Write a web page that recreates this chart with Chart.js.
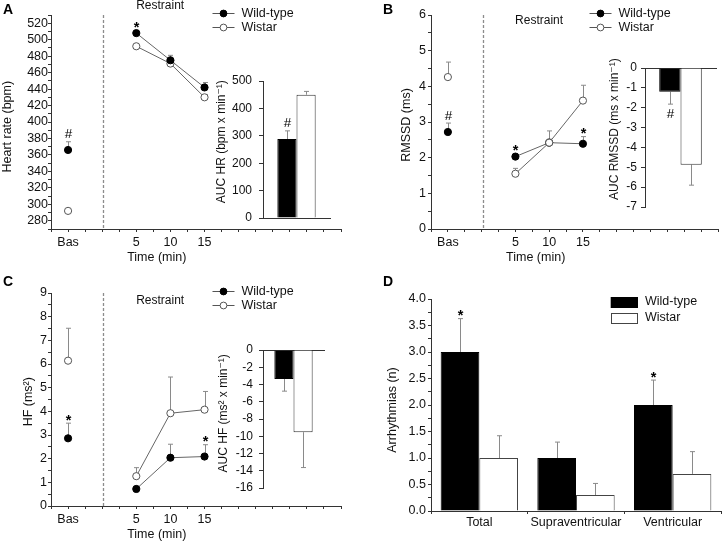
<!DOCTYPE html>
<html>
<head>
<meta charset="utf-8">
<title>Restraint stress: heart rate, RMSSD, HF and arrhythmias</title>
<script src="https://cdn.jsdelivr.net/npm/chart.js@4.4.1/dist/chart.umd.min.js"></script>
<style>
  html, body { margin: 0; padding: 0; background: #fff; }
  #figure { position: relative; width: 723px; height: 547px; overflow: hidden; background: #fff; }
  #figure canvas { position: absolute; }
  .panel-tag { position: absolute; font: bold 14px "Liberation Sans", Arial, sans-serif; line-height: 14px; color: #000; }
</style>
</head>
<body>
<div id="figure">
  <canvas id="hr"></canvas>
  <canvas id="rmssd"></canvas>
  <canvas id="hf"></canvas>
  <canvas id="arrhythmias"></canvas>
  <canvas id="hrAuc"></canvas>
  <canvas id="rmssdAuc"></canvas>
  <canvas id="hfAuc"></canvas>
  <div class="panel-tag" style="left:3px;top:2px">A</div>
  <div class="panel-tag" style="left:383px;top:2px">B</div>
  <div class="panel-tag" style="left:3px;top:274px">C</div>
  <div class="panel-tag" style="left:383px;top:274px">D</div>
</div>
<script>
// time points: baseline, then minutes of restraint
const timeLabels = ['Bas', '5', '10', '15'];
const timeAxis = [-5, 5, 10, 15];
const groups = ['Wild-type', 'Wistar'];

// A - heart rate (bpm)
const hrWildType = [366, 508, 475, 442];
const hrWildTypeSem = [10, 3, 6, 6];
const hrWildTypeSig = ['#', '*', '', ''];
const hrWistar = [292, 492, 471, 430];
const hrWistarSem = [3, 3, 3, 3];
const hrAuc = [288, 450];
const hrAucSem = [30, 12];
const hrAucSig = ['#', ''];

// B - RMSSD (ms)
const rmssdWildType = [2.72, 2.03, 2.42, 2.39];
const rmssdWildTypeSem = [0.25, 0.08, 0.1, 0.2];
const rmssdWildTypeSig = ['#', '*', '', '*'];
const rmssdWistar = [4.26, 1.55, 2.42, 3.6];
const rmssdWistarSem = [0.42, 0.15, 0.33, 0.43];
const rmssdAuc = [-1.2, -4.87];
const rmssdAucSem = [0.62, 1.03];
const rmssdAucSig = ['#', ''];

// C - HF (ms2)
const hfWildType = [2.86, 0.72, 2.04, 2.09];
const hfWildTypeSem = [0.64, 0.1, 0.57, 0.5];
const hfWildTypeSig = ['*', '', '', '*'];
const hfWistar = [6.14, 1.26, 3.92, 4.07];
const hfWistarSem = [1.37, 0.36, 1.53, 0.77];
const hfAuc = [-3.37, -9.53];
const hfAucSem = [1.4, 4.1];
const hfAucSig = ['', ''];

// D - arrhythmias (n)
const arrhythmiaTypes = ['Total', 'Supraventricular', 'Ventricular'];
const arrhWildType = [3.0, 1.0, 2.0];
const arrhWildTypeSem = [0.63, 0.3, 0.47];
const arrhWildTypeSig = ['*', '', '*'];
const arrhWistar = [1.0, 0.3, 0.7];
const arrhWistarSem = [0.42, 0.22, 0.42];

const FONT = '"Liberation Sans", Arial, "DejaVu Sans", sans-serif';
const AXIS = '#333';
const INK = '#111';

Chart.defaults.font.family = FONT;
Chart.defaults.font.size = 12.5;
Chart.defaults.color = INK;
Chart.defaults.animation = false;
Chart.defaults.events = [];
Chart.defaults.plugins.legend.display = false;
Chart.defaults.plugins.tooltip.enabled = false;

function place(id, box) {
  const c = document.getElementById(id);
  c.width = box.w;
  c.height = box.h;
  Object.assign(c.style, {left: box.l + 'px', top: box.t + 'px', width: box.w + 'px', height: box.h + 'px'});
  return c;
}

// layout padding + axis sizes so the plot area lands where it sits in the figure
function fit(box, plot, axisBelow) {
  const below = box.t + box.h - plot.b;
  return {
    padding: {left: 0, top: plot.t - box.t, right: box.l + box.w - plot.r, bottom: axisBelow ? 0 : below},
    yWidth: plot.l - box.l,
    xHeight: axisBelow ? below : 0
  };
}

function eachError(chart, fn) {
  const y = chart.scales.y;
  chart.data.datasets.forEach((ds, di) => {
    if (!ds.errors) {
      return;
    }
    chart.getDatasetMeta(di).data.forEach((el, i) => {
      const raw = ds.data[i];
      const v = typeof raw === 'object' ? raw.y : raw;
      const dir = v < 0 ? -1 : 1;
      const end = v + dir * (ds.errors[i] || 0);
      fn(ds, i, Math.round(el.x) + 0.5, y.getPixelForValue(v), y.getPixelForValue(end), dir);
    });
  });
}

// one-sided SEM whiskers and the * / # significance marks
const errorBars = {
  id: 'errorBars',
  beforeDatasetsDraw(chart) {
    const {ctx} = chart;
    ctx.save();
    ctx.strokeStyle = '#8a8a8a';
    ctx.lineWidth = 1;
    eachError(chart, (ds, i, x, y0, y1) => {
      if (Math.abs(y1 - y0) < 0.5) {
        return;
      }
      ctx.beginPath();
      ctx.moveTo(x, y0);
      ctx.lineTo(x, y1);
      ctx.moveTo(x - 2.5, y1);
      ctx.lineTo(x + 2.5, y1);
      ctx.stroke();
    });
    ctx.restore();
  },
  afterDatasetsDraw(chart) {
    const {ctx} = chart;
    ctx.save();
    ctx.fillStyle = '#000';
    ctx.textAlign = 'center';
    ctx.textBaseline = 'alphabetic';
    eachError(chart, (ds, i, x, y0, y1, dir) => {
      const mark = ds.sig && ds.sig[i];
      if (!mark) {
        return;
      }
      const star = mark === '*';
      ctx.font = (star ? 'bold 14.5px ' : '13.5px ') + FONT;
      if (dir > 0) {
        ctx.fillText(mark, x, star ? y1 + 1.5 : y1 - 3.5);
      } else {
        ctx.fillText(mark, x, y1 + 13.5);
      }
    });
    ctx.restore();
  }
};

// restraint marker, free-standing axis titles and the hand-made legends
const decor = {
  id: 'decor',
  afterDraw(chart, args, o) {
    const {ctx, chartArea: a} = chart;
    const x = chart.scales.x;
    ctx.save();
    ctx.fillStyle = INK;
    if (o.restraintAt !== undefined) {
      const px = Math.round(x.getPixelForValue(o.restraintAt)) + 1.5;
      ctx.strokeStyle = '#8c8c8c';
      ctx.lineWidth = 1.3;
      ctx.setLineDash([3, 2]);
      ctx.beginPath();
      ctx.moveTo(px, a.top);
      ctx.lineTo(px, a.bottom);
      ctx.stroke();
      ctx.setLineDash([]);
      ctx.font = '12px ' + FONT;
      ctx.textAlign = 'center';
      ctx.textBaseline = 'middle';
      ctx.fillText('Restraint', x.getPixelForValue(o.restraintLabelAt), a.top + o.restraintDy);
    }
    if (o.xTitle) {
      ctx.font = '12.5px ' + FONT;
      ctx.textAlign = 'center';
      ctx.textBaseline = 'middle';
      ctx.fillText(o.xTitle, x.getPixelForValue(o.xTitleAt), a.bottom + 28.5);
    }
    if (o.legend === 'markers') {
      const lx = a.right - 128.5;
      const ly = a.top - 2.5;
      chart.data.datasets.forEach((ds, i) => {
        const yy = Math.round(ly + i * 14) + 0.5;
        ctx.strokeStyle = '#555';
        ctx.lineWidth = 1;
        ctx.beginPath();
        ctx.moveTo(lx, yy);
        ctx.lineTo(lx + 22, yy);
        ctx.stroke();
        ctx.beginPath();
        ctx.arc(lx + 11, yy, 3.4, 0, Math.PI * 2);
        ctx.fillStyle = ds.pointBackgroundColor;
        ctx.fill();
        ctx.strokeStyle = ds.pointBorderColor;
        ctx.stroke();
        ctx.fillStyle = INK;
        ctx.font = '12.5px ' + FONT;
        ctx.textAlign = 'left';
        ctx.textBaseline = 'middle';
        ctx.fillText(ds.label, lx + 29, yy);
      });
    }
    if (o.legend === 'boxes') {
      const bx = a.right - 110.3;
      const by = a.top - 2.3;
      chart.data.datasets.forEach((ds, i) => {
        const top = Math.round(by + i * 16);
        ctx.fillStyle = ds.backgroundColor;
        ctx.fillRect(bx, top, 27, 11);
        ctx.strokeStyle = ds.borderColor;
        ctx.lineWidth = 1;
        ctx.strokeRect(Math.round(bx) + 0.5, top + 0.5, 26, 10);
        ctx.fillStyle = INK;
        ctx.font = '12.5px ' + FONT;
        ctx.textAlign = 'left';
        ctx.textBaseline = 'middle';
        ctx.fillText(ds.label, bx + 34.3, top + 4.5);
      });
    }
    if (o.yTitle) {
      ctx.translate(o.yTitleX, o.yTitleY);
      ctx.rotate(-Math.PI / 2);
      ctx.font = (o.yTitleSize || 12.5) + 'px ' + FONT;
      ctx.textAlign = 'center';
      ctx.textBaseline = 'middle';
      ctx.fillText(o.yTitle, 0, 0);
    }
    ctx.restore();
  }
};

function onStep(v, step) {
  const k = v / step;
  return Math.abs(k - Math.round(k)) < 1e-9;
}

function timeCourse(id, box, plot, cfg) {
  const f = fit(box, plot, true);
  const series = (vals) => vals.map((v, i) => ({x: timeAxis[i], y: v}));
  const hideBaselineLink = (ctx) => (ctx.p0DataIndex === 0 ? 'rgba(0,0,0,0)' : undefined);
  return new Chart(place(id, box), {
    type: 'line',
    data: {
      datasets: [{
        label: groups[0],
        data: series(cfg.wt),
        errors: cfg.wtSem,
        sig: cfg.wtSig,
        order: cfg.wistarOnTop ? 1 : 0,
        borderColor: '#666',
        borderWidth: 1,
        segment: {borderColor: hideBaselineLink},
        pointRadius: 3.6,
        pointBackgroundColor: '#000',
        pointBorderColor: '#000',
        pointBorderWidth: 1
      }, {
        label: groups[1],
        data: series(cfg.wi),
        errors: cfg.wiSem,
        order: cfg.wistarOnTop ? 0 : 1,
        borderColor: '#666',
        borderWidth: 1,
        segment: {borderColor: hideBaselineLink},
        pointRadius: 3.6,
        pointBackgroundColor: '#fff',
        pointBorderColor: '#555',
        pointBorderWidth: 1
      }]
    },
    options: {
      responsive: false,
      layout: {padding: f.padding},
      scales: {
        x: {
          type: 'linear',
          min: -7.5,
          max: 35,
          afterFit: (s) => { s.height = f.xHeight; },
          ticks: {
            stepSize: 2.5,
            autoSkip: false,
            maxRotation: 0,
            padding: 3,
            callback: (v) => {
              const i = timeAxis.indexOf(v);
              return i >= 0 ? timeLabels[i] : '';
            }
          },
          grid: {drawOnChartArea: false, tickLength: 3, tickColor: AXIS},
          border: {color: AXIS}
        },
        y: {
          min: cfg.min,
          max: cfg.max,
          afterFit: (s) => { s.width = f.yWidth; },
          ticks: {
            stepSize: cfg.step,
            autoSkip: false,
            padding: cfg.tickPad,
            callback: (v) => (onStep(v, cfg.labelStep) ? String(v) : '')
          },
          grid: {drawOnChartArea: false, tickLength: 3, tickColor: AXIS},
          border: {color: AXIS}
        }
      },
      plugins: {
        decor: {
          restraintAt: 0,
          restraintLabelAt: 8.5,
          restraintDy: cfg.restraintDy,
          xTitle: 'Time (min)',
          xTitleAt: 8,
          legend: 'markers',
          yTitle: cfg.title,
          yTitleX: cfg.titleAt[0] - box.l,
          yTitleY: cfg.titleAt[1] - box.t
        }
      }
    },
    plugins: [errorBars, decor]
  });
}

function aucInset(id, box, plot, cfg) {
  const f = fit(box, plot, false);
  return new Chart(place(id, box), {
    type: 'bar',
    data: {
      labels: ['AUC'],
      datasets: groups.map((g, i) => ({
        label: g,
        data: [cfg.values[i]],
        errors: [cfg.sem[i]],
        sig: [cfg.sig[i]],
        backgroundColor: i ? '#fff' : '#000',
        borderColor: i ? '#333' : '#000',
        borderWidth: 1
      }))
    },
    options: {
      responsive: false,
      layout: {padding: f.padding},
      datasets: {bar: {categoryPercentage: cfg.share, barPercentage: 1}},
      scales: {
        x: {
          position: cfg.values[0] < 0 ? 'top' : 'bottom',
          afterFit: (s) => { s.height = 0; },
          ticks: {display: false},
          grid: {display: false},
          border: {color: AXIS}
        },
        y: {
          min: cfg.min,
          max: cfg.max,
          afterFit: (s) => { s.width = f.yWidth; },
          ticks: {stepSize: cfg.step, autoSkip: false, padding: cfg.tickPad, font: {size: 12}},
          grid: {drawOnChartArea: false, tickLength: 4, tickColor: AXIS},
          border: {color: AXIS}
        }
      },
      plugins: {
        decor: {
          yTitle: cfg.title,
          yTitleSize: 12,
          yTitleX: cfg.titleAt[0] - box.l,
          yTitleY: cfg.titleAt[1] - box.t
        }
      }
    },
    plugins: [errorBars, decor]
  });
}

// A
timeCourse('hr', {l: 0, t: 0, w: 361, h: 270}, {l: 51, t: 15, r: 341, b: 229}, {
  wt: hrWildType, wtSem: hrWildTypeSem, wtSig: hrWildTypeSig,
  wi: hrWistar, wiSem: hrWistarSem,
  min: 270, max: 530, step: 10, labelStep: 20, tickPad: 0,
  restraintDy: -9, title: 'Heart rate (bpm)', titleAt: [8, 126.7]
});
aucInset('hrAuc', {l: 195, t: 65, w: 150, h: 170}, {l: 263, t: 81, r: 330, b: 218}, {
  values: hrAuc, sem: hrAucSem, sig: hrAucSig,
  min: 0, max: 500, step: 100, tickPad: 7, share: 0.572,
  title: 'AUC HR (bpm x min⁻¹)', titleAt: [221.7, 141.7]
});

// B
timeCourse('rmssd', {l: 361, t: 0, w: 362, h: 270}, {l: 431, t: 15, r: 720, b: 229}, {
  wt: rmssdWildType, wtSem: rmssdWildTypeSem, wtSig: rmssdWildTypeSig,
  wi: rmssdWistar, wiSem: rmssdWistarSem, wistarOnTop: true,
  min: 0, max: 6, step: 0.5, labelStep: 1, tickPad: 2,
  restraintDy: 5.7, title: 'RMSSD (ms)', titleAt: [406.7, 125]
});
aucInset('rmssdAuc', {l: 590, t: 50, w: 133, h: 170}, {l: 645, t: 68, r: 716, b: 207}, {
  values: rmssdAuc, sem: rmssdAucSem, sig: rmssdAucSig,
  min: -7, max: 0, step: 1, tickPad: 4, share: 0.6,
  title: 'AUC RMSSD (ms x min⁻¹)', titleAt: [615, 129.2]
});

// C
timeCourse('hf', {l: 0, t: 270, w: 361, h: 277}, {l: 51, t: 293, r: 341, b: 506}, {
  wt: hfWildType, wtSem: hfWildTypeSem, wtSig: hfWildTypeSig,
  wi: hfWistar, wiSem: hfWistarSem,
  min: 0, max: 9, step: 0.5, labelStep: 1, tickPad: 1,
  restraintDy: 7.7, title: 'HF (ms²)', titleAt: [28.3, 401.7]
});
aucInset('hfAuc', {l: 195, t: 325, w: 150, h: 180}, {l: 263, t: 350, r: 324, b: 488}, {
  values: hfAuc, sem: hfAucSem, sig: hfAucSig,
  min: -16, max: 0, step: 2, tickPad: 6, share: 0.628,
  title: 'AUC HF (ms² x min⁻¹)', titleAt: [223.3, 413.3]
});

// D
(function () {
  const box = {l: 361, t: 270, w: 362, h: 277};
  const f = fit(box, {l: 431, t: 299, r: 721, b: 511}, true);
  new Chart(place('arrhythmias', box), {
    type: 'bar',
    data: {
      labels: arrhythmiaTypes,
      datasets: [{
        label: groups[0],
        data: arrhWildType,
        errors: arrhWildTypeSem,
        sig: arrhWildTypeSig,
        backgroundColor: '#000',
        borderColor: '#000',
        borderWidth: 1
      }, {
        label: groups[1],
        data: arrhWistar,
        errors: arrhWistarSem,
        backgroundColor: '#fff',
        borderColor: '#444',
        borderWidth: 1
      }]
    },
    options: {
      responsive: false,
      layout: {padding: f.padding},
      datasets: {bar: {categoryPercentage: 0.8, barPercentage: 1}},
      scales: {
        x: {
          afterFit: (s) => { s.height = f.xHeight; },
          ticks: {padding: 1, maxRotation: 0, autoSkip: false},
          grid: {drawOnChartArea: false, offset: true, tickLength: 3, tickColor: AXIS},
          border: {color: AXIS}
        },
        y: {
          min: 0,
          max: 4,
          afterFit: (s) => { s.width = f.yWidth; },
          ticks: {
            stepSize: 0.25,
            autoSkip: false,
            padding: 2,
            callback: (v) => (onStep(v, 0.5) ? v.toFixed(1) : '')
          },
          grid: {drawOnChartArea: false, tickLength: 3, tickColor: AXIS},
          border: {color: AXIS}
        }
      },
      plugins: {
        decor: {
          legend: 'boxes',
          yTitle: 'Arrhythmias (n)',
          yTitleX: 392.5 - box.l,
          yTitleY: 410 - box.t
        }
      }
    },
    plugins: [errorBars, decor]
  });
})();
</script>
</body>
</html>
